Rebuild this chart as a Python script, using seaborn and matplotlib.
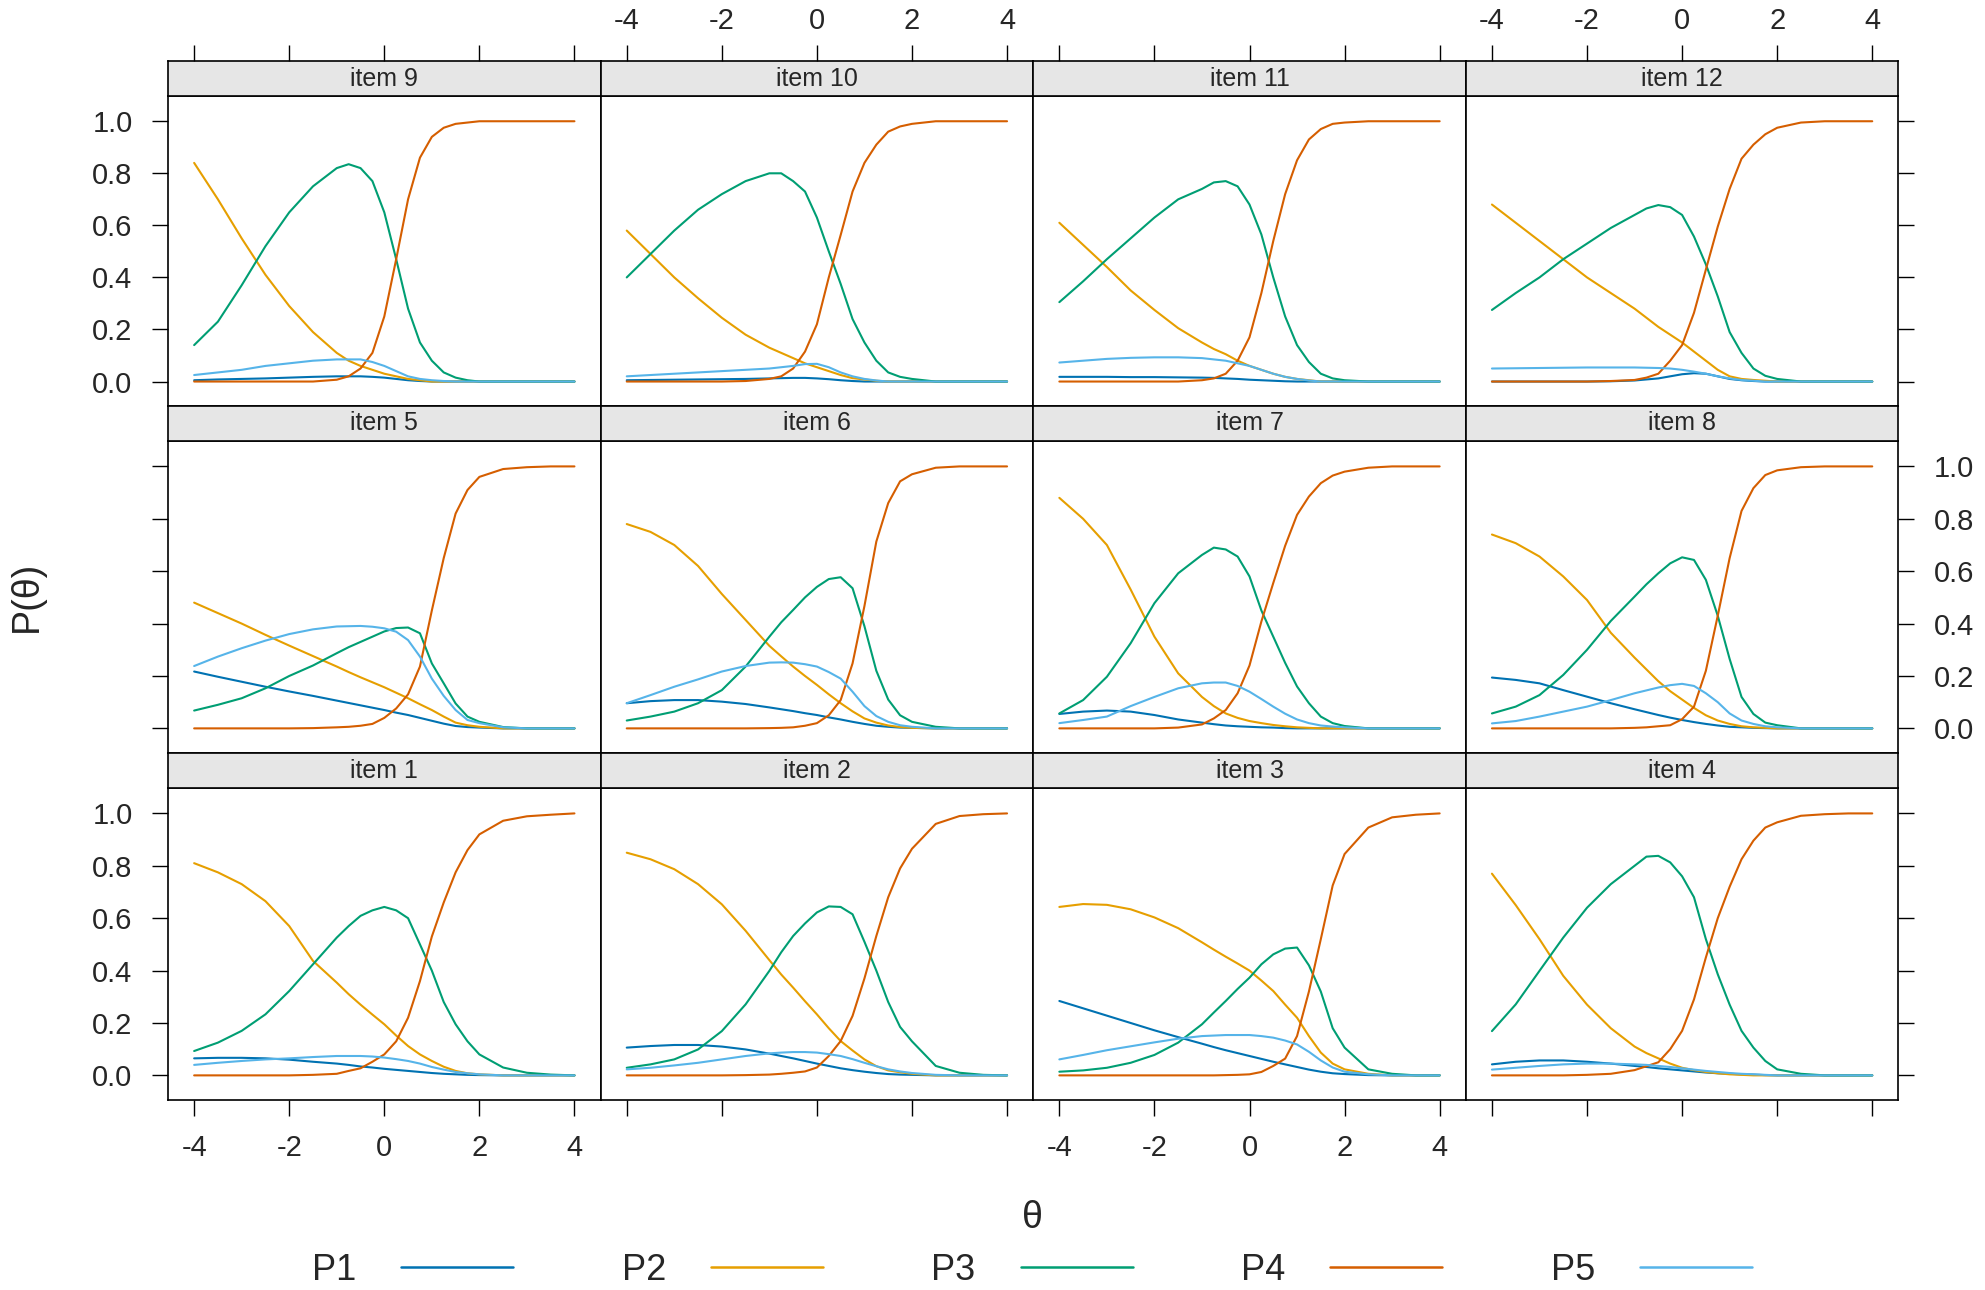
import seaborn as sns
import matplotlib.pyplot as plt
import pandas as pd
from matplotlib.lines import Line2D

# theta grid (finer where the curves bend)
theta = [-4, -3.5, -3, -2.5, -2, -1.5, -1,
         -0.75, -0.5, -0.25, 0,
         0.25, 0.5, 0.75, 1,
         1.25, 1.5, 1.75, 2,
         2.5, 3, 3.5, 4]
categories = ["P1", "P2", "P3", "P4", "P5"]
colors = ["#0072B2", "#E69F00", "#009E73", "#D55E00", "#56B4E9"]
item_order = [9, 10, 11, 12, 5, 6, 7, 8, 1, 2, 3, 4]
x_ticks = [-4, -2, 0, 2, 4]
y_ticks = [0.0, 0.2, 0.4, 0.6, 0.8, 1.0]

item1 = {
    "P1": [0.065, 0.067, 0.067, 0.065, 0.06, 0.052, 0.045, 0.04, 0.034, 0.03, 0.025, 0.021, 0.017, 0.013, 0.009, 0.006, 0.004, 0.002, 0.001, 0, 0, 0, 0],
    "P2": [0.81, 0.775, 0.73, 0.665, 0.57, 0.437, 0.354, 0.31, 0.27, 0.232, 0.195, 0.152, 0.112, 0.08, 0.055, 0.033, 0.017, 0.008, 0.004, 0, 0, 0, 0],
    "P3": [0.093, 0.125, 0.17, 0.233, 0.322, 0.424, 0.526, 0.57, 0.609, 0.63, 0.643, 0.63, 0.60, 0.50, 0.40, 0.28, 0.195, 0.13, 0.08, 0.03, 0.01, 0.003, 0],
    "P4": [0, 0, 0, 0, 0, 0.002, 0.006, 0.017, 0.027, 0.052, 0.08, 0.13, 0.22, 0.36, 0.53, 0.66, 0.775, 0.86, 0.92, 0.972, 0.989, 0.995, 1],
    "P5": [0.04, 0.048, 0.055, 0.061, 0.065, 0.07, 0.074, 0.074, 0.074, 0.072, 0.068, 0.062, 0.055, 0.045, 0.032, 0.022, 0.013, 0.008, 0.004, 0, 0, 0, 0],
}
item2 = {
    "P1": [0.106, 0.112, 0.116, 0.116, 0.11, 0.099, 0.083, 0.074, 0.065, 0.055, 0.045, 0.036, 0.027, 0.02, 0.014, 0.009, 0.005, 0.003, 0.002, 0, 0, 0, 0],
    "P2": [0.85, 0.825, 0.787, 0.73, 0.653, 0.552, 0.44, 0.385, 0.335, 0.283, 0.233, 0.18, 0.131, 0.095, 0.061, 0.035, 0.019, 0.012, 0.006, 0, 0, 0, 0],
    "P3": [0.029, 0.042, 0.061, 0.099, 0.169, 0.271, 0.399, 0.47, 0.532, 0.58, 0.622, 0.645, 0.643, 0.615, 0.51, 0.40, 0.28, 0.185, 0.13, 0.036, 0.01, 0.002, 0],
    "P4": [0, 0, 0, 0, 0, 0.001, 0.003, 0.006, 0.01, 0.015, 0.03, 0.074, 0.131, 0.227, 0.37, 0.532, 0.68, 0.79, 0.865, 0.96, 0.99, 0.997, 1],
    "P5": [0.023, 0.029, 0.038, 0.048, 0.061, 0.074, 0.084, 0.087, 0.089, 0.089, 0.087, 0.081, 0.074, 0.062, 0.048, 0.035, 0.023, 0.015, 0.009, 0.002, 0, 0, 0],
}
item3 = {
    "P1": [0.284, 0.256, 0.228, 0.20, 0.172, 0.146, 0.121, 0.108, 0.096, 0.085, 0.074, 0.063, 0.052, 0.042, 0.032, 0.022, 0.014, 0.008, 0.005, 0.001, 0, 0, 0],
    "P2": [0.643, 0.654, 0.651, 0.634, 0.603, 0.562, 0.508, 0.48, 0.453, 0.427, 0.40, 0.362, 0.322, 0.27, 0.22, 0.15, 0.087, 0.045, 0.023, 0.006, 0, 0, 0],
    "P3": [0.014, 0.019, 0.029, 0.048, 0.078, 0.125, 0.195, 0.24, 0.284, 0.33, 0.373, 0.424, 0.462, 0.484, 0.488, 0.42, 0.32, 0.18, 0.106, 0.023, 0.006, 0, 0],
    "P4": [0, 0, 0, 0, 0, 0, 0, 0, 0.001, 0.002, 0.004, 0.013, 0.036, 0.064, 0.15, 0.32, 0.52, 0.725, 0.845, 0.946, 0.985, 0.995, 1],
    "P5": [0.061, 0.078, 0.096, 0.111, 0.126, 0.14, 0.15, 0.152, 0.154, 0.154, 0.154, 0.15, 0.144, 0.133, 0.118, 0.09, 0.057, 0.03, 0.014, 0.004, 0, 0, 0],
}
item4 = {
    "P1": [0.042, 0.052, 0.057, 0.057, 0.052, 0.045, 0.036, 0.032, 0.027, 0.023, 0.019, 0.015, 0.011, 0.008, 0.006, 0.004, 0.003, 0.001, 0, 0, 0, 0, 0],
    "P2": [0.77, 0.65, 0.52, 0.38, 0.27, 0.18, 0.11, 0.085, 0.065, 0.045, 0.029, 0.02, 0.013, 0.008, 0.004, 0.002, 0, 0, 0, 0, 0, 0, 0],
    "P3": [0.169, 0.271, 0.399, 0.526, 0.64, 0.73, 0.80, 0.835, 0.838, 0.813, 0.76, 0.68, 0.52, 0.386, 0.27, 0.17, 0.106, 0.055, 0.023, 0.006, 0, 0, 0],
    "P4": [0, 0, 0, 0, 0.002, 0.006, 0.02, 0.035, 0.05, 0.1, 0.17, 0.29, 0.45, 0.60, 0.72, 0.825, 0.896, 0.946, 0.966, 0.991, 0.997, 1, 1],
    "P5": [0.022, 0.029, 0.036, 0.042, 0.045, 0.045, 0.042, 0.04, 0.036, 0.032, 0.027, 0.022, 0.017, 0.013, 0.009, 0.006, 0.004, 0.002, 0, 0, 0, 0, 0],
}
item5 = {
    "P1": [0.217, 0.197, 0.178, 0.159, 0.141, 0.124, 0.106, 0.097, 0.088, 0.079, 0.07, 0.06, 0.051, 0.04, 0.029, 0.018, 0.009, 0.005, 0.003, 0, 0, 0, 0],
    "P2": [0.48, 0.44, 0.40, 0.357, 0.316, 0.276, 0.236, 0.215, 0.195, 0.176, 0.157, 0.136, 0.115, 0.092, 0.07, 0.045, 0.022, 0.012, 0.006, 0, 0, 0, 0],
    "P3": [0.068, 0.09, 0.115, 0.153, 0.20, 0.24, 0.287, 0.31, 0.33, 0.35, 0.37, 0.383, 0.385, 0.363, 0.248, 0.172, 0.095, 0.045, 0.025, 0.005, 0, 0, 0],
    "P4": [0, 0, 0, 0, 0, 0.001, 0.004, 0.006, 0.01, 0.017, 0.04, 0.076, 0.13, 0.236, 0.45, 0.65, 0.82, 0.91, 0.96, 0.99, 0.997, 1, 1],
    "P5": [0.238, 0.274, 0.306, 0.335, 0.36, 0.378, 0.389, 0.39, 0.391, 0.388, 0.382, 0.369, 0.337, 0.274, 0.19, 0.124, 0.07, 0.032, 0.02, 0.004, 0, 0, 0],
}
item6 = {
    "P1": [0.096, 0.104, 0.108, 0.108, 0.102, 0.093, 0.08, 0.073, 0.066, 0.058, 0.051, 0.042, 0.034, 0.025, 0.017, 0.01, 0.006, 0.003, 0.002, 0, 0, 0, 0],
    "P2": [0.78, 0.75, 0.70, 0.62, 0.513, 0.414, 0.315, 0.275, 0.236, 0.2, 0.166, 0.13, 0.096, 0.065, 0.038, 0.022, 0.011, 0.005, 0.002, 0, 0, 0, 0],
    "P3": [0.03, 0.045, 0.064, 0.096, 0.146, 0.236, 0.35, 0.405, 0.452, 0.50, 0.54, 0.57, 0.577, 0.535, 0.39, 0.22, 0.11, 0.05, 0.025, 0.006, 0, 0, 0],
    "P4": [0, 0, 0, 0, 0, 0, 0.001, 0.002, 0.004, 0.01, 0.02, 0.05, 0.108, 0.248, 0.467, 0.713, 0.86, 0.943, 0.97, 0.995, 1, 1, 1],
    "P5": [0.096, 0.127, 0.159, 0.187, 0.217, 0.238, 0.251, 0.252, 0.251, 0.245, 0.236, 0.215, 0.19, 0.14, 0.085, 0.047, 0.025, 0.012, 0.006, 0, 0, 0, 0],
}
item7 = {
    "P1": [0.055, 0.064, 0.068, 0.064, 0.051, 0.034, 0.022, 0.016, 0.011, 0.008, 0.006, 0.004, 0.003, 0.001, 0, 0, 0, 0, 0, 0, 0, 0, 0],
    "P2": [0.88, 0.80, 0.70, 0.53, 0.35, 0.21, 0.12, 0.085, 0.057, 0.04, 0.028, 0.02, 0.013, 0.008, 0.004, 0.002, 0, 0, 0, 0, 0, 0, 0],
    "P3": [0.057, 0.108, 0.197, 0.325, 0.478, 0.592, 0.662, 0.69, 0.683, 0.656, 0.58, 0.45, 0.35, 0.25, 0.16, 0.096, 0.045, 0.02, 0.009, 0, 0, 0, 0],
    "P4": [0, 0, 0, 0, 0, 0.003, 0.015, 0.038, 0.07, 0.134, 0.24, 0.408, 0.555, 0.697, 0.815, 0.885, 0.936, 0.965, 0.98, 0.995, 1, 1, 1],
    "P5": [0.02, 0.032, 0.045, 0.085, 0.12, 0.153, 0.172, 0.175, 0.175, 0.162, 0.14, 0.112, 0.083, 0.056, 0.034, 0.02, 0.011, 0.007, 0.004, 0, 0, 0, 0],
}
item8 = {
    "P1": [0.194, 0.185, 0.172, 0.146, 0.121, 0.096, 0.073, 0.062, 0.051, 0.041, 0.032, 0.024, 0.017, 0.011, 0.006, 0.004, 0.002, 0.001, 0, 0, 0, 0, 0],
    "P2": [0.74, 0.707, 0.656, 0.58, 0.49, 0.365, 0.27, 0.225, 0.18, 0.142, 0.11, 0.078, 0.05, 0.03, 0.017, 0.008, 0.004, 0.002, 0, 0, 0, 0, 0],
    "P3": [0.057, 0.083, 0.127, 0.204, 0.30, 0.41, 0.503, 0.55, 0.592, 0.63, 0.653, 0.643, 0.567, 0.43, 0.265, 0.12, 0.055, 0.022, 0.012, 0, 0, 0, 0],
    "P4": [0, 0, 0, 0, 0, 0, 0.002, 0.004, 0.008, 0.012, 0.035, 0.083, 0.22, 0.43, 0.65, 0.83, 0.917, 0.967, 0.985, 0.997, 1, 1, 1],
    "P5": [0.019, 0.028, 0.045, 0.064, 0.083, 0.108, 0.134, 0.145, 0.156, 0.165, 0.17, 0.162, 0.134, 0.1, 0.057, 0.03, 0.017, 0.008, 0.004, 0, 0, 0, 0],
}
item9 = {
    "P1": [0.005, 0.008, 0.01, 0.012, 0.015, 0.018, 0.02, 0.02, 0.02, 0.018, 0.015, 0.01, 0.005, 0.002, 0, 0, 0, 0, 0, 0, 0, 0, 0],
    "P2": [0.84, 0.70, 0.55, 0.41, 0.29, 0.19, 0.11, 0.08, 0.06, 0.045, 0.03, 0.02, 0.01, 0.005, 0, 0, 0, 0, 0, 0, 0, 0, 0],
    "P3": [0.14, 0.23, 0.37, 0.52, 0.65, 0.75, 0.82, 0.835, 0.82, 0.77, 0.65, 0.47, 0.28, 0.15, 0.08, 0.035, 0.015, 0.005, 0, 0, 0, 0, 0],
    "P4": [0, 0, 0, 0, 0, 0, 0.007, 0.02, 0.05, 0.11, 0.25, 0.47, 0.70, 0.86, 0.94, 0.975, 0.99, 0.995, 1, 1, 1, 1, 1],
    "P5": [0.025, 0.035, 0.045, 0.06, 0.07, 0.08, 0.085, 0.085, 0.085, 0.075, 0.06, 0.04, 0.02, 0.01, 0.005, 0.002, 0, 0, 0, 0, 0, 0, 0],
}
item10 = {
    "P1": [0.005, 0.006, 0.007, 0.008, 0.009, 0.01, 0.012, 0.013, 0.014, 0.014, 0.012, 0.009, 0.005, 0.002, 0, 0, 0, 0, 0, 0, 0, 0, 0],
    "P2": [0.58, 0.49, 0.40, 0.32, 0.245, 0.18, 0.13, 0.11, 0.09, 0.07, 0.055, 0.04, 0.025, 0.013, 0.008, 0.003, 0, 0, 0, 0, 0, 0, 0],
    "P3": [0.40, 0.49, 0.58, 0.66, 0.72, 0.77, 0.80, 0.80, 0.77, 0.73, 0.63, 0.50, 0.375, 0.24, 0.15, 0.08, 0.035, 0.018, 0.01, 0, 0, 0, 0],
    "P4": [0, 0, 0, 0, 0, 0.002, 0.01, 0.02, 0.05, 0.115, 0.22, 0.40, 0.563, 0.73, 0.84, 0.91, 0.96, 0.98, 0.99, 1, 1, 1, 1],
    "P5": [0.02, 0.025, 0.03, 0.035, 0.04, 0.045, 0.05, 0.055, 0.06, 0.067, 0.068, 0.055, 0.035, 0.02, 0.01, 0.004, 0, 0, 0, 0, 0, 0, 0],
}
item11 = {
    "P1": [0.018, 0.018, 0.018, 0.017, 0.017, 0.016, 0.015, 0.014, 0.012, 0.01, 0.007, 0.005, 0.003, 0.001, 0, 0, 0, 0, 0, 0, 0, 0, 0],
    "P2": [0.61, 0.525, 0.44, 0.35, 0.275, 0.205, 0.15, 0.125, 0.105, 0.08, 0.06, 0.045, 0.03, 0.018, 0.01, 0.005, 0, 0, 0, 0, 0, 0, 0],
    "P3": [0.305, 0.385, 0.47, 0.55, 0.63, 0.70, 0.74, 0.765, 0.77, 0.75, 0.68, 0.565, 0.40, 0.25, 0.14, 0.075, 0.03, 0.012, 0.005, 0, 0, 0, 0],
    "P4": [0, 0, 0, 0, 0, 0, 0.005, 0.012, 0.03, 0.08, 0.17, 0.34, 0.54, 0.72, 0.85, 0.93, 0.97, 0.99, 0.995, 1, 1, 1, 1],
    "P5": [0.073, 0.08, 0.087, 0.091, 0.093, 0.093, 0.09, 0.085, 0.08, 0.07, 0.06, 0.045, 0.03, 0.018, 0.01, 0.004, 0, 0, 0, 0, 0, 0, 0],
}
item12 = {
    "P1": [0, 0, 0, 0, 0, 0.001, 0.004, 0.008, 0.012, 0.02, 0.028, 0.032, 0.03, 0.02, 0.01, 0.005, 0.002, 0, 0, 0, 0, 0, 0],
    "P2": [0.68, 0.61, 0.54, 0.47, 0.40, 0.34, 0.28, 0.245, 0.21, 0.18, 0.15, 0.115, 0.08, 0.045, 0.02, 0.01, 0.006, 0.003, 0, 0, 0, 0, 0],
    "P3": [0.275, 0.34, 0.40, 0.47, 0.53, 0.59, 0.64, 0.665, 0.678, 0.67, 0.64, 0.557, 0.45, 0.327, 0.19, 0.11, 0.05, 0.022, 0.01, 0, 0, 0, 0],
    "P4": [0, 0, 0, 0, 0, 0.002, 0.006, 0.015, 0.03, 0.08, 0.14, 0.264, 0.43, 0.595, 0.74, 0.856, 0.91, 0.95, 0.975, 0.995, 1, 1, 1],
    "P5": [0.05, 0.051, 0.052, 0.053, 0.054, 0.054, 0.054, 0.053, 0.052, 0.05, 0.045, 0.038, 0.03, 0.02, 0.012, 0.006, 0.003, 0, 0, 0, 0, 0, 0],
}

items = {1: item1, 2: item2, 3: item3, 4: item4, 5: item5, 6: item6,
         7: item7, 8: item8, 9: item9, 10: item10, 11: item11, 12: item12}

rows = []
for num, d in items.items():
    for cat in categories:
        assert len(d[cat]) == len(theta), (num, cat)
        for t, p in zip(theta, d[cat]):
            rows.append((num, t, cat, p))
df = pd.DataFrame(rows, columns=["item", "theta", "cat", "prob"])

sns.set_style("white")
plt.rcParams["font.family"] = ["Liberation Sans", "DejaVu Sans"]
plt.rcParams["axes.unicode_minus"] = False

W, H = 1985, 1290
fig = plt.figure(figsize=(W / 100, H / 100), dpi=100)

def rect(x0, y0, x1, y1):
    return [x0 / W, 1 - y1 / H, (x1 - x0) / W, (y1 - y0) / H]

col_left = [168 + i * 432.6 for i in range(4)]
pw = 432.6
strip_top = [61, 406, 753]
panel_top = [96, 441, 788]
panel_bot = [406, 753, 1100]
xlim = (-4.55, 4.55)
ylim = (-0.094, 1.097)

for k, num in enumerate(item_order):
    r, c = divmod(k, 4)
    x0 = col_left[c]
    ax = fig.add_axes(rect(x0, panel_top[r], x0 + pw, panel_bot[r]))
    sub = df[df["item"] == num]
    sns.lineplot(data=sub, x="theta", y="prob", hue="cat", hue_order=categories,
                 palette=colors, ax=ax, legend=False, linewidth=1.5)
    ax.set_xlim(*xlim)
    ax.set_ylim(*ylim)
    ax.set_xlabel("")
    ax.set_ylabel("")
    ax.set_xticks(x_ticks)
    ax.set_xticklabels([str(v) for v in x_ticks])
    ax.set_yticks(y_ticks)
    ax.set_yticklabels([f"{v:.1f}" for v in y_ticks])
    for s in ax.spines.values():
        s.set_color("black")
        s.set_linewidth(1.2)
    ax.tick_params(axis="x", direction="out", length=11.5, width=1, color="black",
                   labelsize=21, pad=13, top=False,
                   bottom=(r == 2), labelbottom=(r == 2 and c in (0, 2)))
    ax.tick_params(axis="y", direction="out", length=11.5, width=1, color="black",
                   labelsize=21, pad=14,
                   left=(c == 0), right=(c == 3),
                   labelleft=(c == 0 and r != 1), labelright=(c == 3 and r == 1))

    # strip on top of each panel
    sax = fig.add_axes(rect(x0, strip_top[r], x0 + pw, panel_top[r]))
    sax.set_facecolor("#e6e6e6")
    sax.set_xlim(*xlim)
    sax.set_ylim(0, 1)
    sax.set_xticks(x_ticks)
    sax.set_xticklabels([str(v) for v in x_ticks])
    sax.set_yticks([])
    for s in sax.spines.values():
        s.set_color("black")
        s.set_linewidth(1.2)
    sax.tick_params(axis="x", direction="out", length=11.5, width=1, color="black",
                    labelsize=21, pad=7, bottom=False, labelbottom=False,
                    top=(r == 0), labeltop=(r == 0 and c in (1, 3)))
    sax.text(0.5, 0.5, f"item {num}", transform=sax.transAxes,
             ha="center", va="center", fontsize=18)

fig.text(1032 / W, 1 - 1218 / H, "θ", ha="center", va="center", fontsize=27)
fig.text(27 / W, 1 - 596 / H, "P(θ)", rotation=90, ha="center", va="center", fontsize=27)

handles = [Line2D([], [], color=col, linewidth=1.8) for col in colors]
fig.legend(handles, categories, ncol=5, loc="center",
           bbox_to_anchor=(1032 / W, 1 - 1270 / H), frameon=False,
           markerfirst=False, fontsize=26, handlelength=3.1,
           handletextpad=1.25, columnspacing=3.0)

fig.savefig("out.png", dpi=100)
